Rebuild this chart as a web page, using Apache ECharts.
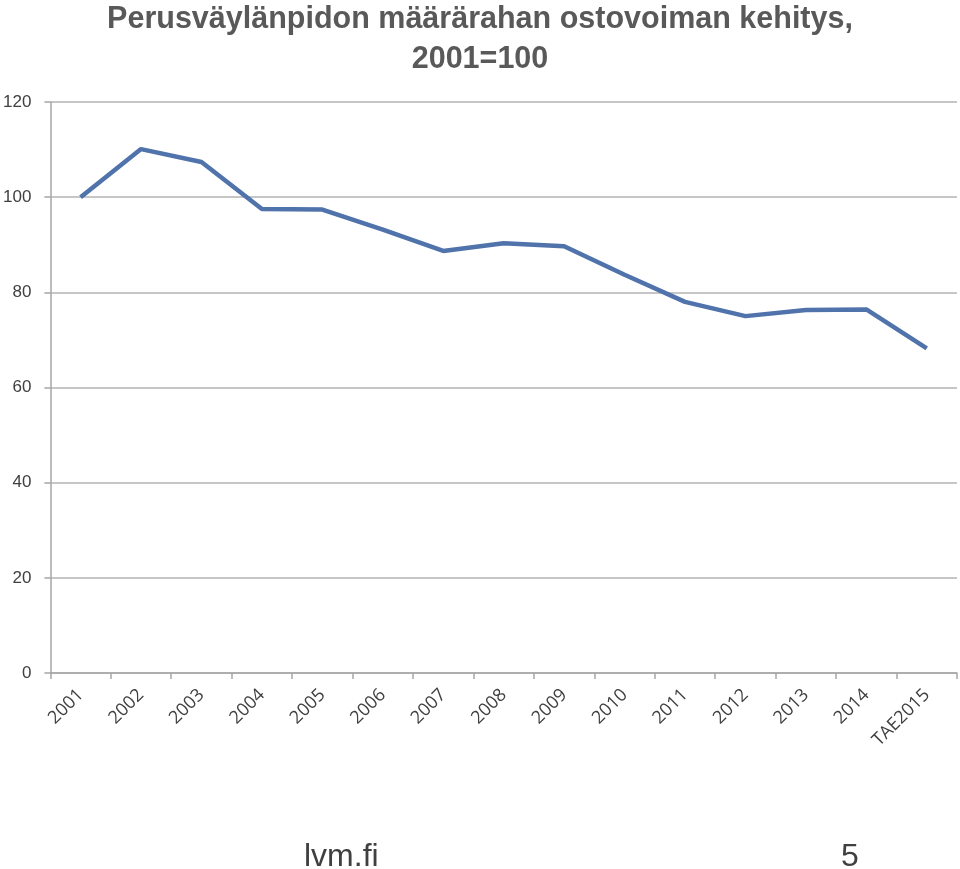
<!DOCTYPE html>
<html>
<head>
<meta charset="utf-8">
<script src="https://cdn.jsdelivr.net/npm/echarts@6/dist/echarts.min.js"></script>
<style>
  html, body { margin: 0; padding: 0; background: #fff; }
  #chart { width: 960px; height: 869px; }
</style>
</head>
<body>
<div id="chart"></div>
<script>
const categories = ['2001', '2002', '2003', '2004', '2005', '2006', '2007', '2008',
  '2009', '2010', '2011', '2012', '2013', '2014', 'TAE2015']
const values = [100, 110.1, 107.4, 97.5, 97.4, 93.2, 88.7, 90.3, 89.7, 83.7, 78.0, 75.0, 76.3, 76.4, 68.2]
const yTicks = [0, 20, 40, 60, 80, 100, 120]

const myChart = echarts.init(document.getElementById('chart'))
myChart.setOption({
  animation: false,
  title: [
    {
      text: 'Perusväylänpidon määrärahan ostovoiman kehitys,\n2001=100',
      left: 'center',
      top: -5,
      textStyle: {
        fontFamily: 'Liberation Sans',
        fontWeight: 'bold',
        fontSize: 30.5,
        lineHeight: 40,
        color: '#595959'
      }
    },
    {
      text: 'lvm.fi',
      left: 299,
      top: 836,
      textStyle: { fontFamily: 'Liberation Sans', fontWeight: 'normal', fontSize: 32, color: '#404040' }
    },
    {
      text: '5',
      left: 836,
      top: 836,
      textStyle: { fontFamily: 'Liberation Sans', fontWeight: 'normal', fontSize: 32, color: '#404040' }
    }
  ],
  grid: {
    left: 47,
    right: 3,
    top: 102,
    bottom: 196
  },
  xAxis: {
    type: 'category',
    data: categories,
    boundaryGap: true,
    axisLine: { lineStyle: { color: '#a6a6a6', width: 1.5 } },
    axisTick: { show: true, length: 6, lineStyle: { color: '#a6a6a6', width: 1.5 } },
    axisLabel: {
      rotate: 45,
      interval: 0,
      margin: 19,
      fontFamily: 'Open Sans',
      fontSize: 18,
      color: '#404040'
    }
  },
  yAxis: {
    type: 'value',
    min: yTicks[0],
    max: yTicks[yTicks.length - 1],
    interval: 20,
    axisLine: { show: true, lineStyle: { color: '#a6a6a6', width: 1.5 } },
    axisTick: { show: true, length: 6, lineStyle: { color: '#a6a6a6', width: 1.5 } },
    splitLine: { lineStyle: { color: '#b3b3b3', width: 1.5 } },
    axisLabel: {
      margin: 19,
      fontFamily: 'Liberation Sans',
      fontSize: 17,
      color: '#404040'
    }
  },
  series: [
    {
      type: 'line',
      data: values,
      symbol: 'none',
      lineStyle: { color: '#4f73aa', width: 4.5 }
    }
  ]
})
</script>
</body>
</html>
